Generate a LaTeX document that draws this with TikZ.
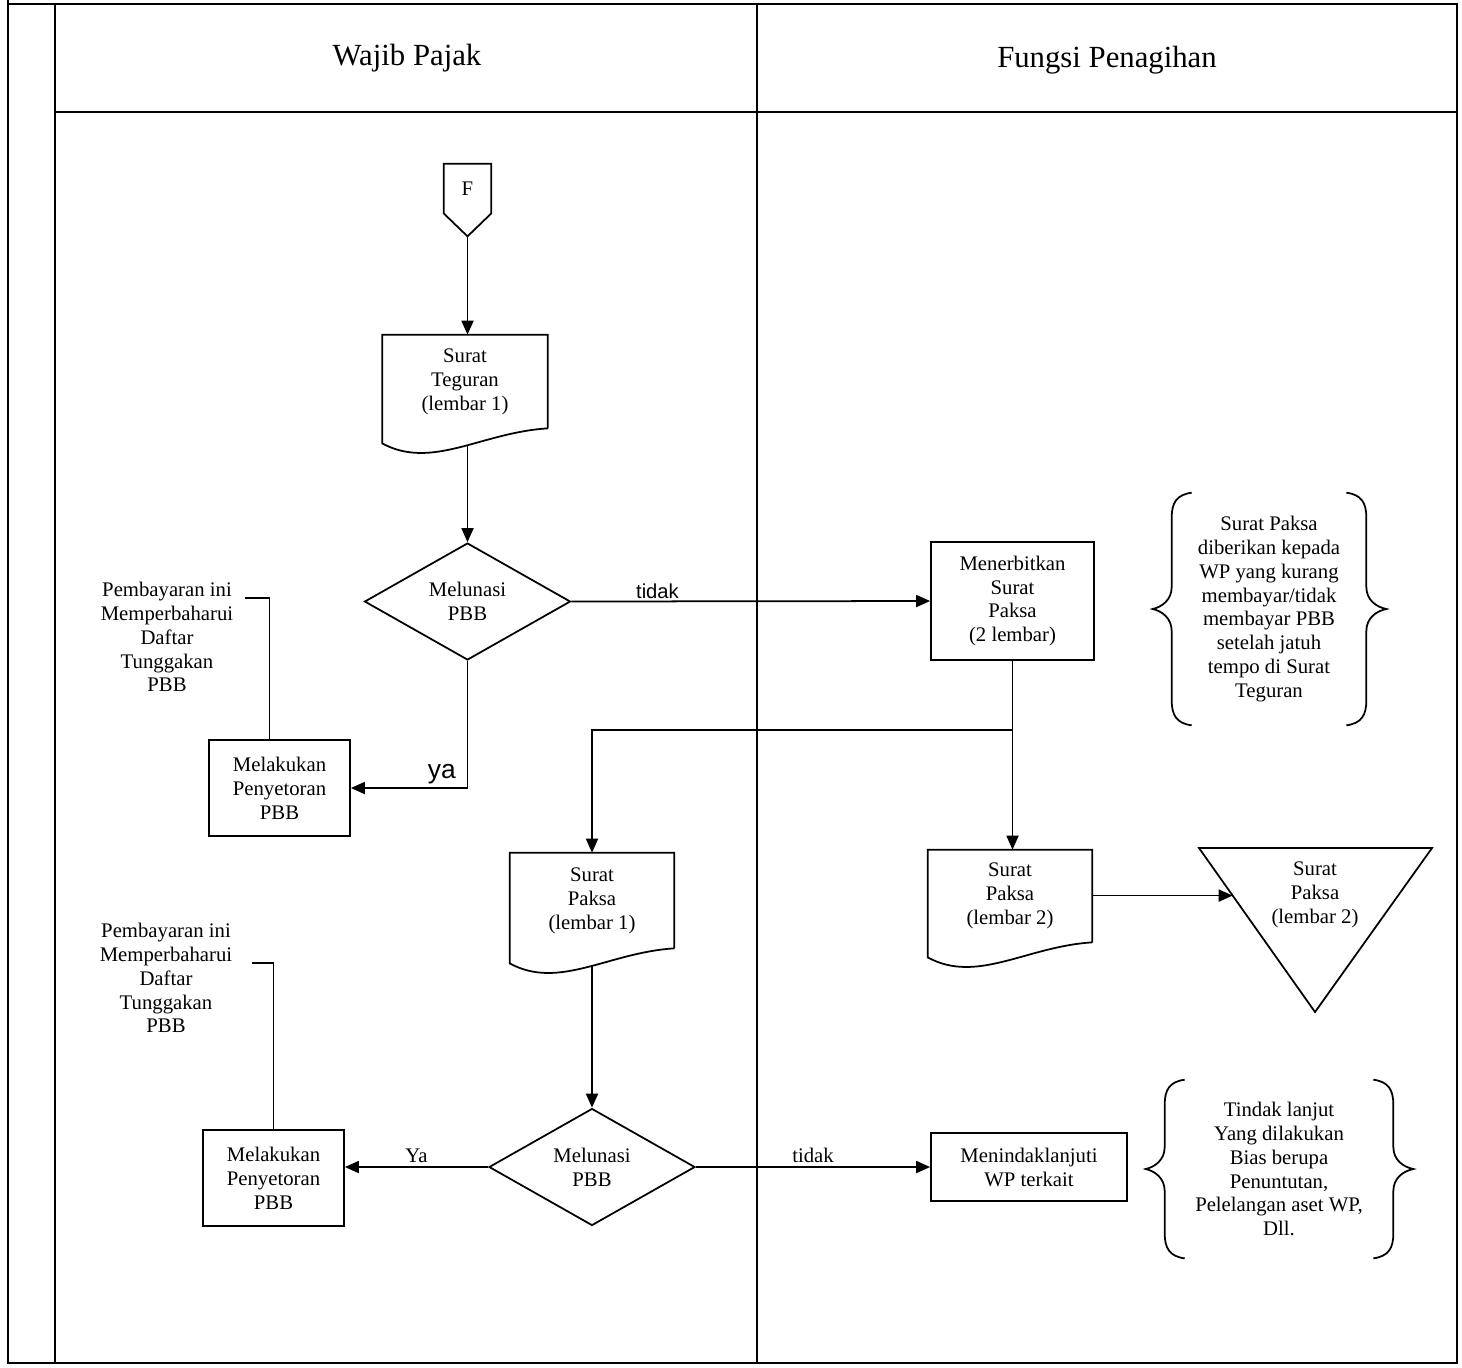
\documentclass[tikz,border=0pt]{standalone}
\usepackage{fontspec}
\setmainfont{Liberation Serif}
\newfontfamily\labelsans{Liberation Sans}
\usetikzlibrary{arrows.meta,shapes.geometric,calc}

% document symbol: straight top and sides, wavy bottom
\newcommand{\dokumen}[1]{%
  \draw[garis] (#1.south east) -- (#1.north east) -- (#1.north west) -- ($(#1.south west)+(0,15)$)
    .. controls ($(#1.south west)!0.3!(#1.south east)+(0,42)$) and ($(#1.south west)!0.6!(#1.south east)+(0,4)$) .. (#1.south east);
  \coordinate (#1 ekor) at ($(#1.south)+(0,18)$);}
% off-page connector pointing down
\newcommand{\konektor}[1]{%
  \draw[garis] (#1.north west) -- (#1.north east) -- (#1.south east) -- ($(#1.south)+(0,23)$) -- (#1.south west) -- cycle;
  \coordinate (#1 ujung) at ($(#1.south)+(0,23)$);}
% curly braces left and right of a note
\newcommand{\kurawal}[1]{%
  \draw[garis] ($(#1.north west)+(20,0)$) .. controls ($(#1.north west)+(5,2)$) and ($(#1.north west)+(0,10)$) .. ($(#1.north west)+(0,25)$)
    -- ($(#1.west)+(0,-22)$) .. controls ($(#1.west)+(0,-9)$) and ($(#1.west)+(-10,-2)$) .. ($(#1.west)+(-19,0)$)
    .. controls ($(#1.west)+(-10,2)$) and ($(#1.west)+(0,9)$) .. ($(#1.west)+(0,22)$)
    -- ($(#1.south west)+(0,-25)$) .. controls ($(#1.south west)+(0,-10)$) and ($(#1.south west)+(5,-2)$) .. ($(#1.south west)+(20,0)$);
  \draw[garis] ($(#1.north east)+(-20,0)$) .. controls ($(#1.north east)+(-5,2)$) and ($(#1.north east)+(0,10)$) .. ($(#1.north east)+(0,25)$)
    -- ($(#1.east)+(0,-22)$) .. controls ($(#1.east)+(0,-9)$) and ($(#1.east)+(10,-2)$) .. ($(#1.east)+(20,0)$)
    .. controls ($(#1.east)+(10,2)$) and ($(#1.east)+(0,9)$) .. ($(#1.east)+(0,22)$)
    -- ($(#1.south east)+(0,-25)$) .. controls ($(#1.south east)+(0,-10)$) and ($(#1.south east)+(-5,-2)$) .. ($(#1.south east)+(-20,0)$);}

\begin{document}
\begin{tikzpicture}[
        x=0.02cm, y=-0.02cm,
        font=\fontsize{11.8}{13.6}\selectfont,
        garis/.style={line width=1pt},
        bingkai/.style={line width=0.7pt},
        kepala/.style={font=\fontsize{17.5}{21}\selectfont},
    % process boxes and decisions
        proses/.style={draw, line width=1pt, rectangle, align=center, inner sep=2pt},
        keputusan/.style={draw, line width=1pt, diamond, aspect=1.76, align=center,
        inner sep=0pt, minimum width=4.12cm, minimum height=2.34cm},
        dok/.style={rectangle, align=center, inner sep=2pt, minimum width=3.28cm},
        konek/.style={rectangle, minimum width=0.94cm, minimum height=0.98cm, inner sep=0pt},
        catatan/.style={align=center, inner sep=0pt},
        alur/.style={-{Triangle[length=0.28cm,width=0.24cm]}, line width=1pt},
        ket/.style={font=\labelsans\fontsize{11.5}{13.6}\selectfont, inner sep=1pt},
        ketbesar/.style={font=\labelsans\fontsize{15}{18}\selectfont, inner sep=2pt}
    ]
    \useasboundingbox (0,0) rectangle (1462,1367);

% --- swimlane frame ---
    \draw[bingkai] (8,0) -- (8,1363) -- (1457,1363) -- (1457,4) -- (8,4);
    \draw[bingkai] (55,4) -- (55,1363);
    \draw[bingkai] (757,4) -- (757,1363);
    \draw[bingkai] (55,112) -- (1457,112);
    \node[kepala] (wp) at (407,58) {Wajib Pajak};
    \node[kepala] (fp) at (1107,60) {Fungsi Penagihan};

% --- Wajib Pajak lane ---
    \node[konek] (mulai) at (467.5,188.5) {F};
    \node[dok, minimum width=3.3cm, minimum height=1.86cm] (teguran) at (465,381.5) {Surat\\Teguran\\(lembar 1)};
    \node[keputusan] (lunas1) at (467.5,601.5) {Melunasi\\PBB};
    \node[proses, minimum width=2.82cm, minimum height=1.92cm] (setor1) at (279.5,788) {Melakukan\\Penyetoran\\PBB};
    \node[catatan] (catatan1) at (167,637) {Pembayaran ini\\Memperbaharui\\Daftar\\Tunggakan\\PBB};
    \node[dok, minimum height=1.9cm] (paksa1) at (592,900.5) {Surat\\Paksa\\(lembar 1)};
    \node[keputusan] (lunas2) at (592,1167) {Melunasi\\PBB};
    \node[proses, minimum width=2.82cm, minimum height=1.92cm] (setor2) at (273.5,1178) {Melakukan\\Penyetoran\\PBB};
    \node[catatan] (catatan2) at (166,978) {Pembayaran ini\\Memperbaharui\\Daftar\\Tunggakan\\PBB};

% --- Fungsi Penagihan lane ---
    \node[proses, minimum width=3.26cm, minimum height=2.36cm] (terbit) at (1012.5,601) {Menerbitkan\\Surat\\Paksa\\(2 lembar)};
    \node[catatan, minimum width=3.88cm, minimum height=4.64cm] (ket1) at (1269,609) {Surat Paksa\\diberikan kepada\\WP yang kurang\\membayar/tidak\\membayar PBB\\setelah jatuh\\tempo di Surat\\Teguran};
    \node[dok, minimum height=1.84cm] (paksa2) at (1010,896) {Surat\\Paksa\\(lembar 2)};
    \node[catatan] (arsip) at (1315,895) {Surat\\Paksa\\(lembar 2)};
    \node[proses, minimum width=3.92cm, minimum height=1.36cm] (tindak) at (1029,1167) {Menindaklanjuti\\WP terkait};
    \node[catatan, minimum width=4.56cm, minimum height=3.56cm] (ket2) at (1279,1169) {Tindak lanjut\\Yang dilakukan\\Bias berupa\\Penuntutan,\\Pelelangan aset WP,\\Dll.};

% --- symbol outlines ---
    \konektor{mulai}
    \dokumen{teguran}
    \dokumen{paksa1}
    \dokumen{paksa2}
    \coordinate (arsip kiri) at ($(arsip)+(-116,-47)$);
    \coordinate (arsip kanan) at ($(arsip)+(117,-47)$);
    \coordinate (arsip bawah) at ($(arsip)+(0,117)$);
    \draw[garis] (arsip kiri) -- (arsip kanan) -- (arsip bawah) -- cycle;
    \coordinate (arsip masuk) at ($(arsip kiri)!0.29!(arsip bawah)$);
    \kurawal{ket1}
    \kurawal{ket2}

% --- flow ---
    \draw[alur] (mulai ujung) -- (mulai ujung |- teguran.north);
    \draw[alur] (lunas1.north |- teguran ekor) -- (lunas1.north);
    \draw[alur] (lunas1.east) -- (terbit.west) node[ket, above, pos=0.24] {tidak};
    \draw[alur] (lunas1.south) |- (setor1.east) node[ketbesar, above, pos=0.61] {ya};
    \draw[garis] ([shift={(11,16)}]catatan1.north east) -| ([xshift=-0.2cm]setor1.north);
    \coordinate (cabang) at ($(terbit.south)+(0,69)$);
    \draw[garis] (terbit.south) -- (cabang);
    \draw[alur] (cabang) -| (paksa1.north);
    \draw[alur] (cabang) -- (cabang |- paksa2.north);
    \draw[alur] (paksa2.east |- arsip masuk) -- (arsip masuk);
    \draw[alur] (paksa1 ekor) -- (lunas2.north);
    \draw[alur] (lunas2.west) -- (lunas2.west -| setor2.east) node[above, midway, inner sep=2pt] {Ya};
    \draw[alur] (lunas2.east) -- (tindak.west) node[above, midway, inner sep=2pt] {tidak};
    \draw[garis] ([shift={(19,40)}]catatan2.north east) -| (setor2.north);
\end{tikzpicture}
\end{document}
